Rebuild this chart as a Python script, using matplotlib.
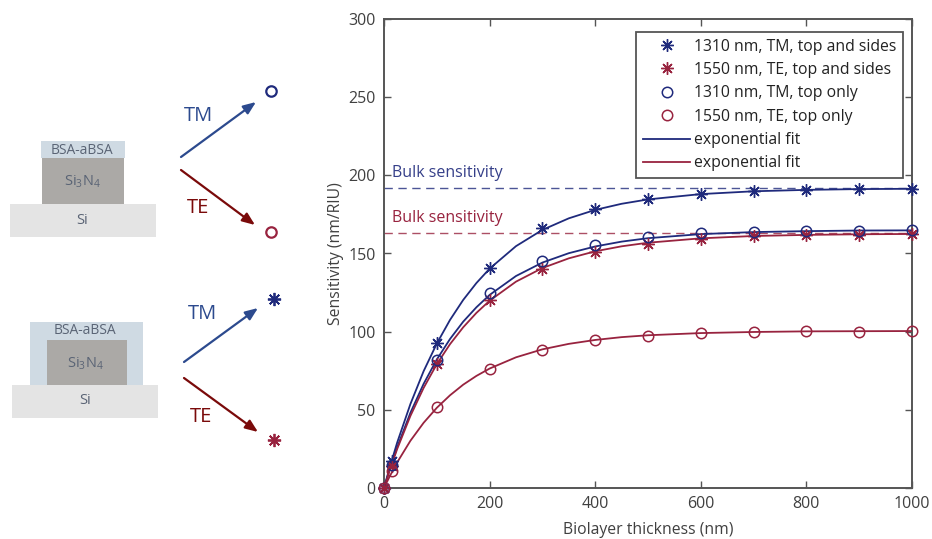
import matplotlib
matplotlib.use('Agg')
import matplotlib.pyplot as plt
from matplotlib.patches import Rectangle

plt.rcParams['font.family'] = ['Open Sans', 'DejaVu Sans']
plt.rcParams['mathtext.default'] = 'regular'

BLUE = '#1f2a7c'
RED = '#98233f'
ARROW_BLUE = '#2c4a8e'
ARROW_RED = '#7a0a0a'
LABEL = '#5a6475'
AXIS = '#555555'
TEXT = '#404040'

# measured points
x_points = [0, 15, 100, 200, 300, 400, 500, 600, 700, 800, 900, 1000]
tm_sides = [0, 17, 92.5, 141, 166, 178.5, 185, 188, 190, 190.5, 191, 191.5]
te_sides = [0, 14, 79, 120, 140, 151, 156, 159.5, 161, 162, 162, 162.5]
tm_top = [0, 15, 82, 124.5, 145, 155.5, 160.5, 163, 164, 164.5, 164.5, 165]
te_top = [0, 11, 51.5, 76, 88.5, 94.5, 97.5, 99, 99.5, 100.5, 100, 100.5]

# fit curves
x_fit = [0, 10, 25, 50, 75, 100, 125, 150, 175, 200, 250, 300, 350, 400, 450, 500, 600, 700, 800, 900, 1000]
tm_sides_fit = [0, 12.2, 29.1, 53.7, 74.7, 92.4, 107.5, 120.3, 131.1, 140.3, 154.7, 165.1, 172.5, 177.9, 181.8,
                184.6, 188, 189.8, 190.7, 191.2, 191.4]
tm_top_fit = [0, 11, 26.1, 48.1, 66.6, 82.2, 95.3, 106.4, 115.6, 123.5, 135.6, 144.2, 150.2, 154.5, 157.6,
              159.8, 162.4, 163.7, 164.3, 164.7, 164.8]
te_sides_fit = [0, 10.5, 25, 46.1, 64, 79.2, 92, 102.8, 112, 119.8, 132, 140.7, 146.9, 151.4, 154.6,
                156.9, 159.7, 161.2, 161.9, 162.3, 162.5]
te_top_fit = [0, 6.9, 16.4, 30.2, 41.7, 51.3, 59.3, 66.1, 71.7, 76.4, 83.6, 88.7, 92.2, 94.7, 96.5,
              97.7, 99.1, 99.8, 100.2, 100.3, 100.4]

bulk_tm = 192
bulk_te = 163

x_ticks = [0, 200, 400, 600, 800, 1000]
y_ticks = [0, 50, 100, 150, 200, 250, 300]

W, H = 932, 539
fig = plt.figure(figsize=(W / 100, H / 100), dpi=100)

# schematic, in pixel coordinates
sk = fig.add_axes([0, 0, 1, 1])
sk.set_xlim(0, W)
sk.set_ylim(H, 0)
sk.axis('off')


def box(x0, y0, x1, y1, color):
    sk.add_patch(Rectangle((x0, y0), x1 - x0, y1 - y0, fc=color, ec='none'))


def arrow(start, end, color):
    sk.annotate('', xy=end, xytext=start,
                arrowprops=dict(arrowstyle='-|>,head_length=0.75,head_width=0.3', color=color, lw=1.6,
                                shrinkA=0, shrinkB=0))


def stack_text(cx, y_bsa, y_sin, y_si):
    sk.text(cx, y_bsa, 'BSA-aBSA', color=LABEL, fontsize=10, ha='center', va='center')
    sk.text(cx, y_sin, 'Si$_3$N$_4$', color=LABEL, fontsize=10.5, ha='center', va='center')
    sk.text(cx, y_si, 'Si', color=LABEL, fontsize=10.5, ha='center', va='center')


# top only
box(41, 141, 125, 158, '#cfdae3')
box(42, 158, 124, 204, '#aba9a6')
box(10, 204, 156, 237, '#e4e4e4')
stack_text(82, 150, 182, 221)
arrow((181, 157), (256, 102), ARROW_BLUE)
arrow((181, 170), (255, 225), ARROW_RED)
sk.text(198, 116, 'TM', color=ARROW_BLUE, fontsize=14.5, ha='center', va='center')
sk.text(198, 208, 'TE', color=ARROW_RED, fontsize=14.5, ha='center', va='center')
sk.plot([271], [91], 'o', mfc='none', mec=BLUE, mew=1.6, ms=7.5)
sk.plot([271], [232], 'o', mfc='none', mec=RED, mew=1.6, ms=7.5)

# top and sides
box(30, 322, 143, 386, '#cfdae3')
box(47, 340, 127, 385, '#aba9a6')
box(12, 385, 158, 418, '#e4e4e4')
stack_text(85, 331, 364, 401)
arrow((184, 362), (258, 308), ARROW_BLUE)
arrow((184, 378), (258, 432), ARROW_RED)
sk.text(202, 314, 'TM', color=ARROW_BLUE, fontsize=14.5, ha='center', va='center')
sk.text(201, 417, 'TE', color=ARROW_RED, fontsize=14.5, ha='center', va='center')
star = (8, 2, 0)
sk.plot([274], [299], marker=star, color=BLUE, mew=1.3, ms=9.5)
sk.plot([274], [440], marker=star, color=RED, mew=1.3, ms=9.5)

# main chart
ax = fig.add_axes([384 / W, 1 - 488 / H, (912 - 384) / W, (488 - 19) / H])
ax.set_xlim(0, 1000)
ax.set_ylim(0, 300)

ax.plot([0, 1008], [bulk_tm, bulk_tm], color=BLUE, lw=1, ls=(0, (6, 4)), alpha=0.8, clip_on=False, zorder=1)
ax.plot([0, 1008], [bulk_te, bulk_te], color=RED, lw=1, ls=(0, (6, 4)), alpha=0.8, clip_on=False, zorder=1)
ax.text(15, 196.5, 'Bulk sensitivity', color=BLUE, fontsize=11.5, va='bottom', alpha=0.9)
ax.text(15, 167.5, 'Bulk sensitivity', color=RED, fontsize=11.5, va='bottom')

ms_star = 9
ms_circle = 7.5
h1, = ax.plot(x_points, tm_sides, ls='none', marker=star, color=BLUE, mew=1, ms=ms_star, clip_on=False, zorder=4)
h2, = ax.plot(x_points, te_sides, ls='none', marker=star, color=RED, mew=1, ms=ms_star, clip_on=False, zorder=4)
h3, = ax.plot(x_points, tm_top, ls='none', marker='o', mfc='none', mec=BLUE, mew=1.1, ms=ms_circle, clip_on=False, zorder=4)
h4, = ax.plot(x_points, te_top, ls='none', marker='o', mfc='none', mec=RED, mew=1.1, ms=ms_circle, clip_on=False, zorder=4)
h5, = ax.plot(x_fit, tm_sides_fit, color=BLUE, lw=1.3, zorder=3)
ax.plot(x_fit, tm_top_fit, color=BLUE, lw=1.3, zorder=3)
h6, = ax.plot(x_fit, te_sides_fit, color=RED, lw=1.3, zorder=3)
ax.plot(x_fit, te_top_fit, color=RED, lw=1.3, zorder=3)

ax.set_xticks(x_ticks)
ax.set_yticks(y_ticks)
ax.tick_params(direction='in', length=5, width=1, color=AXIS, labelcolor=TEXT, labelsize=11.5, pad=6,
               top=True, right=True)
for s in ax.spines.values():
    s.set_color(AXIS)
    s.set_linewidth(1.4)
ax.set_xlabel('Biolayer thickness (nm)', fontsize=11.3, color=TEXT, labelpad=7)
ax.set_ylabel('Sensitivity (nm/RIU)', fontsize=11.3, color=TEXT, labelpad=3)

leg = ax.legend([h1, h2, h3, h4, h5, h6],
                ['1310 nm, TM, top and sides', '1550 nm, TE, top and sides', '1310 nm, TM, top only',
                 '1550 nm, TE, top only', 'exponential fit', 'exponential fit'],
                loc='upper left', bbox_to_anchor=(636 / W, 1 - 32 / H), bbox_transform=fig.transFigure,
                fontsize=11.3, labelspacing=0.47, handlelength=3.05, handletextpad=0.25, borderaxespad=0,
                borderpad=0.42, fancybox=False, framealpha=1, edgecolor=AXIS, labelcolor='#222222')
leg.get_frame().set_linewidth(1.3)

fig.savefig('out.png', dpi=100)
